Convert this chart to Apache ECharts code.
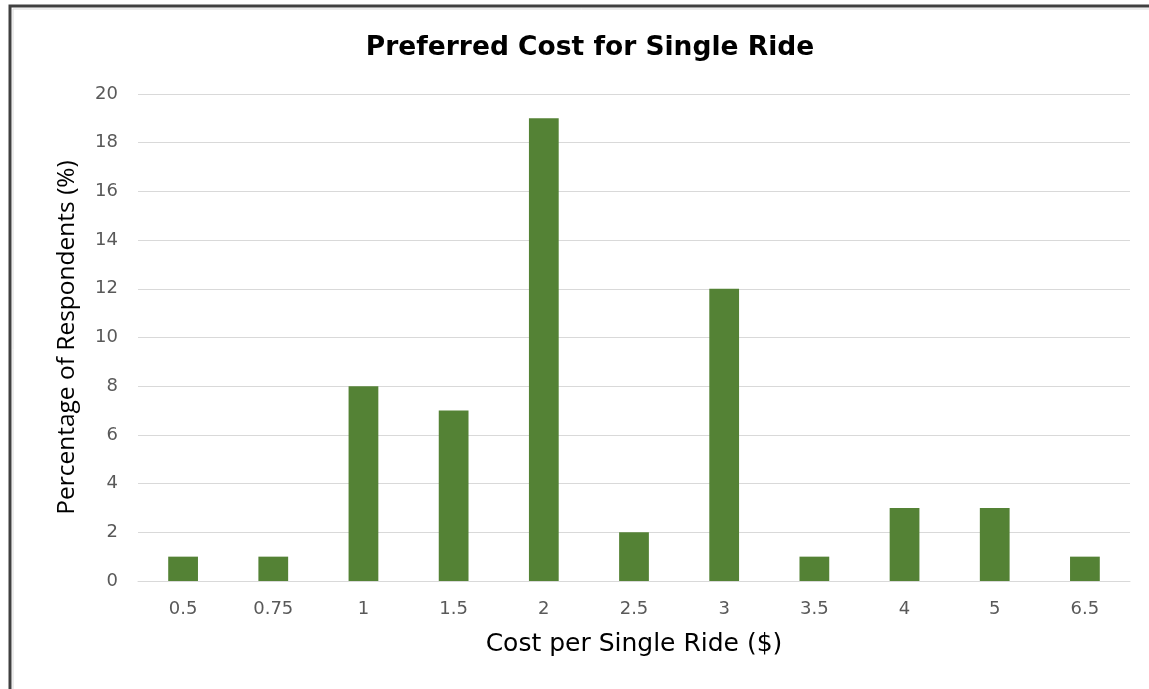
<!DOCTYPE html>
<html>
<head>
<meta charset="utf-8">
<script src="https://cdn.jsdelivr.net/npm/echarts@6/dist/echarts.min.js"></script>
<style>
  html, body { margin: 0; padding: 0; background: #ffffff; }
  #chart { width: 1149px; height: 689px; }
</style>
</head>
<body>
<div id="chart"></div>
<script>
// Preferred single-ride fare, share of respondents per price point
const costLabels = ['0.5', '0.75', '1', '1.5', '2', '2.5', '3', '3.5', '4', '5', '6.5'];
const respondentPct = [1, 1, 8, 7, 19, 2, 12, 1, 3, 3, 1];
const yTicks = { min: 0, max: 20, interval: 2 };

const chart = echarts.init(document.getElementById('chart'), null, { renderer: 'canvas' });

chart.setOption({
  backgroundColor: '#ffffff',
  animation: false,
  graphic: [
    {
      type: 'polyline',
      shape: { points: [[10, 700], [10, 6], [1160, 6]] },
      style: { stroke: '#404040', lineWidth: 3, fill: null },
      silent: true
    },
    {
      type: 'polyline',
      shape: { points: [[13, 700], [13, 9], [1160, 9]] },
      style: { stroke: '#d9d9d9', lineWidth: 1, fill: null },
      silent: true
    }
  ],
  title: {
    text: 'Preferred Cost for Single Ride',
    left: 585,
    top: 30,
    textAlign: 'center',
    textStyle: {
      fontFamily: 'DejaVu Sans',
      fontWeight: 'bold',
      fontSize: 26.5,
      color: '#000000'
    }
  },
  grid: {
    left: 138,
    right: 19,
    top: 94,
    bottom: 108,
    containLabel: false
  },
  xAxis: {
    type: 'category',
    data: costLabels,
    name: 'Cost per Single Ride ($)',
    nameLocation: 'middle',
    nameGap: 51,
    nameTextStyle: { fontFamily: 'DejaVu Sans', fontSize: 25, color: '#000000' },
    axisLine: { show: true, lineStyle: { color: '#d9d9d9', width: 1 } },
    axisTick: { show: false },
    axisLabel: {
      margin: 19,
      fontFamily: 'DejaVu Sans',
      fontSize: 18,
      color: '#595959'
    }
  },
  yAxis: {
    type: 'value',
    min: yTicks.min,
    max: yTicks.max,
    interval: yTicks.interval,
    name: 'Percentage of Respondents (%)',
    nameLocation: 'middle',
    nameGap: 58,
    nameRotate: 90,
    nameTextStyle: { fontFamily: 'Open Sans', fontSize: 24.5, color: '#000000' },
    axisLine: { show: false },
    axisTick: { show: false },
    axisLabel: {
      margin: 20,
      fontFamily: 'DejaVu Sans',
      fontSize: 18,
      color: '#595959'
    },
    splitLine: { lineStyle: { color: '#d9d9d9', width: 1 } }
  },
  series: [
    {
      type: 'bar',
      data: respondentPct,
      barWidth: '33%',
      itemStyle: { color: '#548235' }
    }
  ]
});
</script>
</body>
</html>
